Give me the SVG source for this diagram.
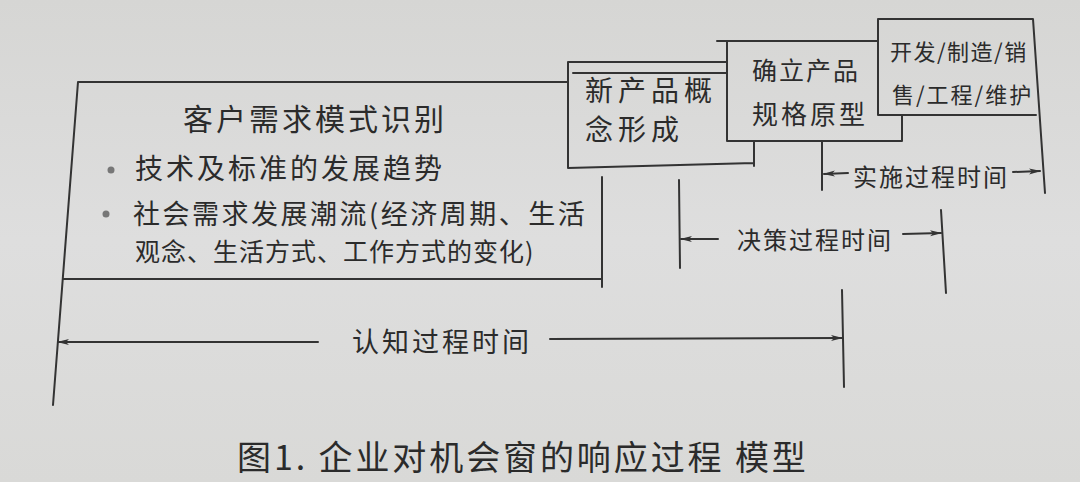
<svg xmlns="http://www.w3.org/2000/svg" width="1080" height="482" viewBox="0 0 1080 482">
<style>
.ln{fill:none;stroke:#333;stroke-width:2;stroke-linecap:round;stroke-linejoin:round}
.t{font-family:"Noto Sans CJK SC","Noto Sans CJK TC",sans-serif;fill:#2b2b2b}
.dot{fill:#777}
</style>
<defs>
<linearGradient id="bg" x1="0" y1="0" x2="0" y2="1">
<stop offset="0" stop-color="#d6d6d4"/>
<stop offset="0.5" stop-color="#dedede"/>
<stop offset="1" stop-color="#d9d9d7"/>
</linearGradient>
<marker id="ah" viewBox="0 0 12 8" refX="11" refY="4" markerWidth="12" markerHeight="8" markerUnits="userSpaceOnUse" orient="auto">
<path d="M0,1 L12,4 L0,7 L3,4 Z" fill="#333"/>
</marker>
</defs>
<rect width="1080" height="482" fill="url(#bg)"/>

<g id="node-customer">
<path class="ln" d="M78,82 L568,82 M78,82 L53,405 M63,279 L602,279 M602,177 L602,287"/>
<text class="t" x="183" y="130" font-size="30" letter-spacing="3">客户需求模式识别</text>
<circle class="dot" cx="111" cy="170" r="3.5"/>
<text class="t" x="135" y="179" font-size="28" letter-spacing="3">技术及标准的发展趋势</text>
<circle class="dot" cx="106" cy="214" r="3.5"/>
<text class="t" x="133" y="224" font-size="27" letter-spacing="2.5">社会需求发展潮流(经济周期、生活</text>
<text class="t" x="135" y="261" font-size="25" letter-spacing="1">观念、生活方式、工作方式的变化)</text>
</g>

<g id="node-concept">
<path class="ln" d="M568,62 L727,62 M573,73 L727,73 M568,62 L568,168 L754,163 M754,141 L754,166"/>
<text class="t" x="585" y="101" font-size="28" letter-spacing="5">新产品概</text>
<text class="t" x="585" y="140" font-size="28" letter-spacing="5">念形成</text>
</g>

<g id="node-spec">
<path class="ln" d="M717,41 L878,41 M727,41 L727,141 L902,141 M902,115 L902,141"/>
<text class="t" x="752" y="80" font-size="25" letter-spacing="2">确立产品</text>
<text class="t" x="752" y="124" font-size="26" letter-spacing="3">规格原型</text>
</g>

<g id="node-dev">
<path class="ln" d="M878,19 L1033,19 L1045,193 M878,19 L878,115 L1036,115"/>
<text class="t" x="890" y="60" font-size="22" letter-spacing="1.5">开发/制造/销</text>
<text class="t" x="892" y="103" font-size="22" letter-spacing="2">售/工程/维护</text>
</g>

<g id="connectors">
<path class="ln" d="M822,141 L822,190 M679,180 L680,268 M941,210 L946,293 M842,290 L844,387"/>
<path class="ln" d="M318,342 L58,342" marker-end="url(#ah)"/>
<path class="ln" d="M550,339 L842,338" marker-end="url(#ah)"/>
<path class="ln" d="M718,239 L681,239" marker-end="url(#ah)"/>
<path class="ln" d="M903,234 L941,233" marker-end="url(#ah)"/>
<path class="ln" d="M848,173 L824,174" marker-end="url(#ah)"/>
<path class="ln" d="M1013,172 L1040,171" marker-end="url(#ah)"/>
<text class="t" x="352" y="352" font-size="27" letter-spacing="3">认知过程时间</text>
<text class="t" x="737" y="249" font-size="24" letter-spacing="2">决策过程时间</text>
<text class="t" x="853" y="186" font-size="24" letter-spacing="2">实施过程时间</text>
</g>

<text class="t" x="237" y="470" font-size="34" letter-spacing="2.9">图1. 企业对机会窗的响应过程 模型</text>
</svg>
